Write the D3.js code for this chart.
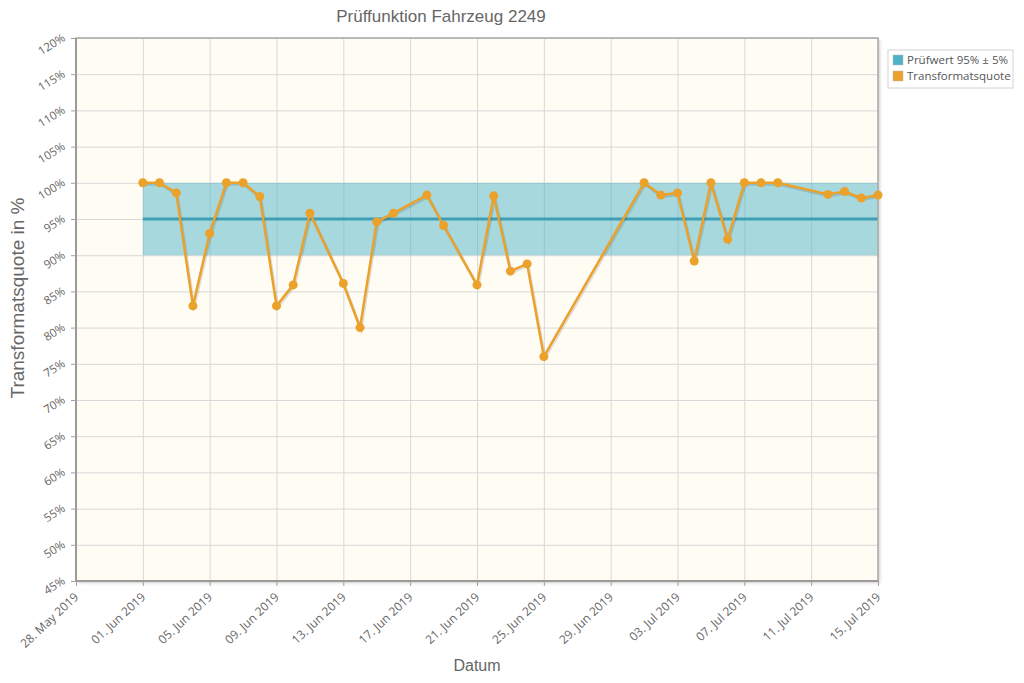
<!DOCTYPE html>
<meta charset="utf-8" />
<style>
  body { margin: 0; background: #fff; font-family: "Liberation Sans", Arial, sans-serif; }
  .grid line { stroke: #d8d8d8; stroke-width: 1; }
  .grid path { display: none; }
  .axis path { display: none; }
  .axis line { stroke: #a0a0a0; }
  .axis text { fill: #666; font-size: 12px; font-family: "Open Sans", "DejaVu Sans", sans-serif; }
  .y.axis text { font-size: 11.5px; }
  .title { fill: #666; font-size: 17px; }
  .axis-title { fill: #666; font-size: 16px; }
  .legend text { fill: #555; font-size: 11.5px; font-family: "Open Sans", "DejaVu Sans", sans-serif; }
</style>
<body>
<script src="https://d3js.org/d3.v7.min.js"></script>
<script>
  // measurement dates and Transformatsquote values (%)
  var dates = [
    "2019-06-01", "2019-06-02", "2019-06-03", "2019-06-04", "2019-06-05",
    "2019-06-06", "2019-06-07", "2019-06-08", "2019-06-09", "2019-06-10",
    "2019-06-11", "2019-06-13", "2019-06-14", "2019-06-15", "2019-06-16",
    "2019-06-18", "2019-06-19", "2019-06-21", "2019-06-22", "2019-06-23",
    "2019-06-24", "2019-06-25", "2019-07-01", "2019-07-02", "2019-07-03",
    "2019-07-04", "2019-07-05", "2019-07-06", "2019-07-07", "2019-07-08",
    "2019-07-09", "2019-07-12", "2019-07-13", "2019-07-14", "2019-07-15"
  ];
  var quote = [
    100, 100, 98.6, 83, 93,
    100, 100, 98.1, 83, 85.9,
    95.8, 86.1, 80, 94.6, 95.8,
    98.3, 94.1, 85.9, 98.2, 87.8,
    88.8, 76, 100, 98.3, 98.6,
    89.2, 100, 92.2, 100, 100,
    100, 98.4, 98.8, 97.9, 98.3
  ];
  // target band: Prüfwert 95% ± 5%
  var bandDates = ["2019-06-01", "2019-07-15"];
  var target = 95, tolerance = 5;

  var yTicks = [45, 50, 55, 60, 65, 70, 75, 80, 85, 90, 95, 100, 105, 110, 115, 120];
  var xDomain = ["2019-05-28", "2019-07-15"];
  var legendLabels = ["Prüfwert 95% ± 5%", "Transformatsquote"];
  var legendColors = ["#4fb3c8", "#eba12a"];

  var parse = d3.timeParse("%Y-%m-%d");
  var data = dates.map(function (d, i) { return { date: parse(d), value: quote[i] }; });

  var margin = { top: 38, left: 76, right: 146, bottom: 102 },
    W = 1024, H = 683,
    width = W - margin.left - margin.right,
    height = H - margin.top - margin.bottom;

  var svg = d3.select("body").append("svg").attr("width", W).attr("height", H);

  var defs = svg.append("defs");
  var f = defs.append("filter").attr("id", "shadow").attr("x", "-5%").attr("y", "-5%").attr("width", "110%").attr("height", "110%");
  f.append("feDropShadow").attr("dx", 2).attr("dy", 2).attr("stdDeviation", 1.5).attr("flood-color", "#000").attr("flood-opacity", 0.18);

  var x = d3.scaleTime().domain(xDomain.map(parse)).range([0, width]);
  var y = d3.scaleLinear().domain([45, 120]).range([height, 0]);

  var g = svg.append("g").attr("transform", "translate(" + margin.left + "," + margin.top + ")");

  g.append("rect").attr("width", width).attr("height", height)
    .attr("fill", "#fffcf4").attr("filter", "url(#shadow)");

  var xTickVals = d3.timeDay.range(parse(xDomain[0]), d3.timeDay.offset(parse(xDomain[1]), 1), 4);

  g.append("g").attr("class", "grid")
    .call(d3.axisLeft(y).tickValues(yTicks).tickSize(-width).tickFormat(""));
  g.append("g").attr("class", "grid")
    .attr("transform", "translate(0," + height + ")")
    .call(d3.axisBottom(x).tickValues(xTickVals).tickSize(-height).tickFormat(""));

  // band
  var bd = bandDates.map(parse);
  g.append("rect")
    .attr("x", x(bd[0])).attr("width", x(bd[1]) - x(bd[0]))
    .attr("y", y(target + tolerance)).attr("height", y(target - tolerance) - y(target + tolerance))
    .attr("fill", "#4fb3c8").attr("fill-opacity", 0.5);
  g.append("line")
    .attr("x1", x(bd[0])).attr("x2", x(bd[1]))
    .attr("y1", y(target)).attr("y2", y(target))
    .attr("stroke", "#3f9fb4").attr("stroke-width", 3);

  // plot border
  g.append("rect").attr("width", width).attr("height", height)
    .attr("fill", "none").attr("stroke", "#a8a8a8").attr("stroke-width", 1.5);
  g.append("line").attr("x1", 0).attr("x2", 0).attr("y1", 0).attr("y2", height)
    .attr("stroke", "#9a9a9a").attr("stroke-width", 2);
  g.append("line").attr("x1", 0).attr("x2", width).attr("y1", height).attr("y2", height)
    .attr("stroke", "#9a9a9a").attr("stroke-width", 2);

  // series
  var line = d3.line().x(function (d) { return x(d.date); }).y(function (d) { return y(d.value); });
  g.append("path").datum(data).attr("d", line)
    .attr("fill", "none").attr("stroke", "#000").attr("stroke-opacity", 0.12)
    .attr("stroke-width", 3).attr("transform", "translate(1,1.5)");
  g.append("path").datum(data).attr("d", line)
    .attr("fill", "none").attr("stroke", legendColors[1]).attr("stroke-width", 2.5)
    .attr("stroke-linejoin", "round");
  g.selectAll(".dot").data(data).enter().append("circle")
    .attr("cx", function (d) { return x(d.date); })
    .attr("cy", function (d) { return y(d.value); })
    .attr("r", 4.5).attr("fill", legendColors[1]);

  // axes
  var fmtDay = d3.timeFormat("%d");
  var months = ["Jan", "Feb", "Mar", "Apr", "May", "Jun", "Jul", "Aug", "Sep", "Oct", "Nov", "Dec"];
  var xAxis = g.append("g").attr("class", "x axis")
    .attr("transform", "translate(0," + height + ")")
    .call(d3.axisBottom(x).tickValues(xTickVals).tickSize(5)
      .tickFormat(function (d) { return fmtDay(d) + ". " + months[d.getMonth()] + " " + d.getFullYear(); }));
  xAxis.selectAll("text")
    .attr("x", 0).attr("y", 0)
    .attr("text-anchor", "end")
    .attr("dy", "0.35em")
    .attr("transform", "translate(0,14) rotate(-43)");

  var yAxis = g.append("g").attr("class", "y axis")
    .call(d3.axisLeft(y).tickValues(yTicks).tickSize(5)
      .tickFormat(function (d) { return d + "%"; }));
  yAxis.selectAll("text")
    .attr("x", 0).attr("y", 0)
    .attr("text-anchor", "end")
    .attr("dy", "0.35em")
    .attr("transform", "translate(-12,-2) rotate(-32)");

  // titles
  svg.append("text").attr("class", "title")
    .attr("x", 441).attr("y", 22).attr("text-anchor", "middle")
    .text("Prüffunktion Fahrzeug 2249");
  svg.append("text").attr("class", "axis-title")
    .attr("x", margin.left + width / 2).attr("y", 671).attr("text-anchor", "middle")
    .text("Datum");
  svg.append("text").attr("class", "axis-title")
    .style("font-size", "19px")
    .attr("transform", "translate(24,298) rotate(-90)")
    .attr("text-anchor", "middle")
    .text("Transformatsquote in %");

  // legend
  var lg = svg.append("g").attr("class", "legend").attr("transform", "translate(888,50)");
  lg.append("rect").attr("width", 125).attr("height", 38)
    .attr("fill", "#fff").attr("stroke", "#d4d4d4");
  legendLabels.forEach(function (t, i) {
    lg.append("rect").attr("x", 5).attr("y", 5 + i * 16).attr("width", 10).attr("height", 10)
      .attr("fill", legendColors[i]).attr("stroke", "#bbb").attr("stroke-width", 0.5);
    lg.append("text").attr("x", 19).attr("y", 14 + i * 16).text(t);
  });
</script>
</body>
